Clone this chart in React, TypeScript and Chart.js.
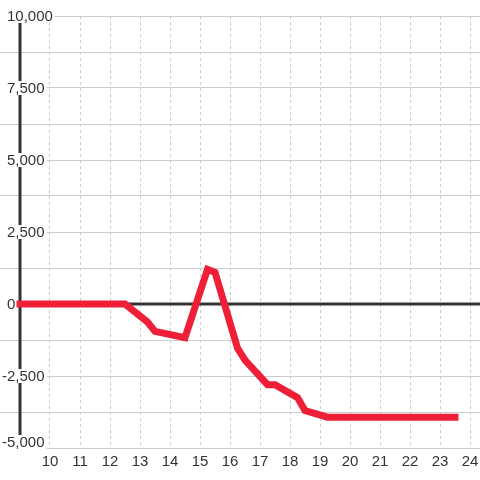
import React, { useEffect, useRef } from "react";
import { Chart, registerables } from "chart.js";

Chart.register(...registerables);

const hours: number[] = [9, 12.5, 13.25, 13.5, 14.5, 15.25, 15.5, 16.25, 16.5, 17.25, 17.5, 18.25, 18.5, 19.25, 23.5];
const values: number[] = [0, 0, -625, -950, -1170, 1200, 1100, -1530, -1950, -2800, -2800, -3250, -3700, -3930, -3930];
const xTickValues: number[] = [10, 11, 12, 13, 14, 15, 16, 17, 18, 19, 20, 21, 22, 23, 24];
const yLabelValues: number[] = [10000, 7500, 5000, 2500, 0, -2500, -5000];
const yLabelTexts: string[] = ["10,000", "7,500", "5,000", "2,500", "0", "-2,500", "-5,000"];

const FONT = '15px "Liberation Sans", Arial, sans-serif';

const axisPlugin = {
  id: "customAxis",
  beforeDatasetsDraw(chart: any) {
    const { ctx, chartArea, scales } = chart;
    const xs = scales.x;
    const ys = scales.y;
    const spineX = xs.getPixelForValue(9);
    const zeroY = ys.getPixelForValue(0);
    ctx.save();
    ctx.strokeStyle = "#333333";
    ctx.lineWidth = 3;
    ctx.beginPath();
    ctx.moveTo(spineX - 1.5, zeroY);
    ctx.lineTo(chartArea.right, zeroY);
    ctx.stroke();
    ctx.beginPath();
    ctx.moveTo(spineX, chartArea.top);
    ctx.lineTo(spineX, chartArea.bottom);
    ctx.stroke();

    ctx.font = FONT;
    ctx.textBaseline = "middle";
    ctx.textAlign = "left";
    const minusW = ctx.measureText("-").width;
    yLabelValues.forEach((v, i) => {
      const txt = yLabelTexts[i];
      const gy = ys.getPixelForValue(v);
      const y = Math.min(gy, chartArea.bottom - 6);
      const x = 7 - (v < 0 ? minusW : 0);
      const w = ctx.measureText(txt).width;
      ctx.fillStyle = "#ffffff";
      const top = Math.min(y - 7, gy - 1);
      const bottom = Math.max(y + 7, gy + 1);
      ctx.fillRect(0, top, x + w + 2, bottom - top);
      ctx.fillStyle = "#333333";
      ctx.fillText(txt, x, y + 1);
    });
    ctx.restore();
  },
};

export default function App() {
  const ref = useRef<HTMLCanvasElement | null>(null);
  useEffect(() => {
    if (!ref.current) return;
    const chart = new Chart(ref.current, {
      type: "line",
      data: {
        datasets: [
          {
            data: hours.map((h, i) => ({ x: h, y: values[i] })),
            borderColor: "#ee1f36",
            borderWidth: 7,
            borderCapStyle: "square",
            borderJoinStyle: "miter",
            pointRadius: 0,
            tension: 0,
            fill: false,
          },
        ],
      },
      options: {
        animation: false,
        responsive: false,
        maintainAspectRatio: false,
        layout: { padding: { top: 16, left: 0, right: 0, bottom: 0 } },
        plugins: { legend: { display: false }, tooltip: { enabled: false } },
        scales: {
          x: {
            type: "linear",
            min: 8 + 1 / 3,
            max: 24 + 1 / 3,
            afterBuildTicks: (scale: any) => {
              scale.ticks = xTickValues.map((v) => ({ value: v }));
            },
            afterFit: (scale: any) => {
              scale.height = 32;
              scale.paddingLeft = 0;
              scale.paddingRight = 0;
            },
            grid: {
              color: "#cccccc",
              lineWidth: 1,
              drawTicks: false,
              tickLength: 0,
            },
            border: { display: false, dash: [3, 3] },
            ticks: {
              color: "#333333",
              font: { family: '"Liberation Sans", Arial, sans-serif', size: 15 },
              padding: 5,
              maxRotation: 0,
              autoSkip: false,
              callback: (v: any) => String(v),
            },
          },
          y: {
            type: "linear",
            min: -5000,
            max: 10000,
            afterFit: (scale: any) => {
              scale.width = 0;
              scale.paddingTop = 0;
              scale.paddingBottom = 0;
            },
            ticks: { display: false, stepSize: 1250 },
            grid: { color: "#cccccc", lineWidth: 1, drawTicks: false, tickLength: 0 },
            border: { display: false },
          },
        },
      },
      plugins: [axisPlugin],
    });
    return () => chart.destroy();
  }, []);
  return (
    <div style={{ position: "fixed", left: 0, top: 0, width: 480, height: 480, background: "#fff" }}>
      <canvas ref={ref} width={480} height={480} style={{ display: "block" }} />
    </div>
  );
}
